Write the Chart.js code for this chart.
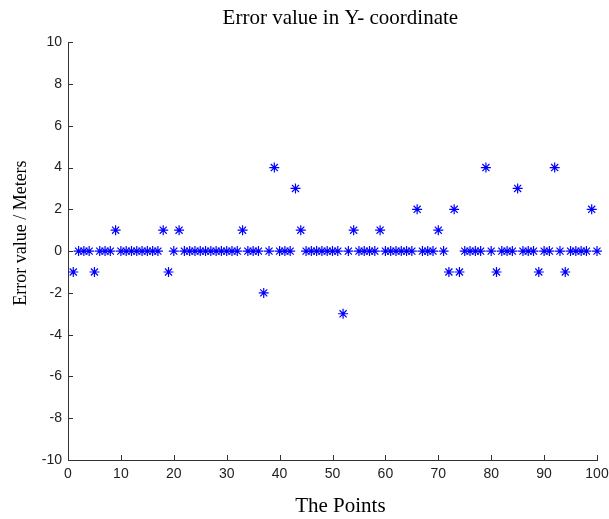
<!DOCTYPE html>
<html>
<head>
<meta charset="utf-8">
<script src="https://cdn.jsdelivr.net/npm/chart.js@4/dist/chart.umd.min.js"></script>
<style>
  html, body { margin: 0; padding: 0; background: #fff; }
  #wrap { width: 609px; height: 519px; }
</style>
</head>
<body>
<div id="wrap"><canvas id="c" width="609" height="519"></canvas></div>
<script>
/* ---------- data ---------- */
const pointIds = [
  1, 2, 3, 4, 5, 6, 7, 8, 9, 10, 11, 12, 13, 14, 15, 16, 17, 18, 19, 20,
  21, 22, 23, 24, 25, 26, 27, 28, 29, 30, 31, 32, 33, 34, 35, 36, 37, 38, 39, 40,
  41, 42, 43, 44, 45, 46, 47, 48, 49, 50, 51, 52, 53, 54, 55, 56, 57, 58, 59, 60,
  61, 62, 63, 64, 65, 66, 67, 68, 69, 70, 71, 72, 73, 74, 75, 76, 77, 78, 79, 80,
  81, 82, 83, 84, 85, 86, 87, 88, 89, 90, 91, 92, 93, 94, 95, 96, 97, 98, 99, 100,
];
const errorY = [
  -1, 0, 0, 0, -1, 0, 0, 0, 1, 0, 0, 0, 0, 0, 0, 0, 0, 1, -1, 0,
  1, 0, 0, 0, 0, 0, 0, 0, 0, 0, 0, 0, 1, 0, 0, 0, -2, 0, 4, 0,
  0, 0, 3, 1, 0, 0, 0, 0, 0, 0, 0, -3, 0, 1, 0, 0, 0, 0, 1, 0,
  0, 0, 0, 0, 0, 2, 0, 0, 0, 1, 0, -1, 2, -1, 0, 0, 0, 0, 4, 0,
  -1, 0, 0, 0, 3, 0, 0, 0, -1, 0, 0, 4, 0, -1, 0, 0, 0, 0, 2, 0,
];
const xTicks = [0, 10, 20, 30, 40, 50, 60, 70, 80, 90, 100];
const yTicks = [-10, -8, -6, -4, -2, 0, 2, 4, 6, 8, 10];

const SANS = "'Liberation Sans', Arial, sans-serif";
const SERIF = "'Liberation Serif', 'Times New Roman', serif";
const AXIS = "#333";

/* MATLAB 식 안쪽 눈금 */
const innerTicks = {
  id: "innerTicks",
  afterDraw(chart) {
    const { ctx, chartArea: a, scales } = chart;
    ctx.save();
    ctx.strokeStyle = AXIS;
    ctx.lineWidth = 1;
    ctx.beginPath();
    xTicks.forEach((v) => {
      const px = Math.round(scales.x.getPixelForValue(v)) + 0.5;
      ctx.moveTo(px, a.bottom);
      ctx.lineTo(px, a.bottom - 5);
    });
    yTicks.forEach((v) => {
      const py = Math.round(scales.y.getPixelForValue(v)) + 0.5;
      ctx.moveTo(a.left, py);
      ctx.lineTo(a.left + 5, py);
    });
    ctx.stroke();
    ctx.restore();
  },
};

new Chart(document.getElementById("c"), {
  type: "scatter",
  data: {
    datasets: [
      {
        data: pointIds.map((x, i) => ({ x, y: errorY[i] })),
        pointStyle: "star",
        radius: 5,
        borderColor: "#0000ff",
        backgroundColor: "#0000ff",
        borderWidth: 1.2,
        clip: false,
      },
    ],
  },
  options: {
    responsive: false,
    animation: false,
    layout: { padding: { left: 0, right: 12, top: 0, bottom: 0 } },
    scales: {
      x: {
        type: "linear",
        min: 0,
        max: 100,
        afterBuildTicks: (s) => { s.ticks = xTicks.map((v) => ({ value: v })); },
        afterFit: (s) => { s.height = 59; s.paddingLeft = 0; s.paddingRight = 0; },
        grid: { display: false, drawTicks: false },
        border: { display: true, color: AXIS, width: 1 },
        ticks: { padding: 6, color: "#222", font: { family: SANS, size: 14 }, maxRotation: 0 },
        title: { display: true, text: "   The Points", color: "#000", font: { family: SERIF, size: 21 }, padding: { top: 0, bottom: 0 } },
      },
      y: {
        type: "linear",
        min: -10,
        max: 10,
        afterBuildTicks: (s) => { s.ticks = yTicks.map((v) => ({ value: v })); },
        afterFit: (s) => { s.width = 68; s.paddingTop = 0; s.paddingBottom = 0; },
        grid: { display: false, drawTicks: false },
        border: { display: true, color: AXIS, width: 1 },
        ticks: { padding: 6, color: "#222", font: { family: SANS, size: 14 } },
        title: { display: true, text: "        Error value / Meters", color: "#000", font: { family: SERIF, size: 18 }, padding: { top: 10, bottom: 0 } },
      },
    },
    plugins: {
      legend: { display: false },
      tooltip: { enabled: false },
      title: {
        display: true,
        fullSize: false,
        text: "   Error value in Y- coordinate",
        color: "#000",
        font: { family: SERIF, size: 21, weight: "normal" },
        padding: { top: 6, bottom: 11 },
      },
    },
  },
  plugins: [innerTicks],
});
</script>
</body>
</html>
